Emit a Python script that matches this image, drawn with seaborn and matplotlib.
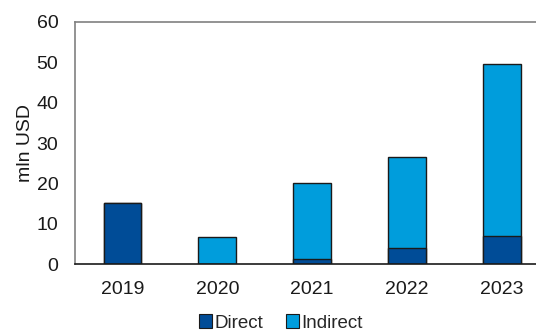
import matplotlib
matplotlib.use("Agg")
import matplotlib.pyplot as plt
from matplotlib.patches import Patch
import seaborn as sns
import pandas as pd

years = ["2019", "2020", "2021", "2022", "2023"]
direct = [15.2, 0.0, 1.4, 4.0, 7.1]
indirect = [0.0, 6.8, 18.7, 22.6, 42.4]

series_names = ["Direct", "Indirect"]
series_colors = ["#004C97", "#009DDC"]

df = pd.DataFrame({"year": years, "Direct": direct, "Indirect": indirect})
df["Total"] = df["Direct"] + df["Indirect"]

sns.set_theme(style="white")
plt.rcParams["font.family"] = ["Liberation Sans", "DejaVu Sans"]

fig = plt.figure(figsize=(5.36, 3.33), dpi=100)
ax = fig.add_axes([0.14, 0.206, 0.885, 0.728])

# Stacked bars: full height in the Indirect colour, Direct segment drawn over it
sns.barplot(data=df, x="year", y="Total", color=series_colors[1], width=0.4,
            edgecolor="#1a1a1a", linewidth=1.0, saturation=1, ax=ax)
sns.barplot(data=df, x="year", y="Direct", color=series_colors[0], width=0.4,
            edgecolor="#1a1a1a", linewidth=1.0, saturation=1, ax=ax)

ax.set_xlim(-0.5, 4.5)
ax.set_ylim(0, 60)
ax.set_yticks(range(0, 61, 10))
ax.set_xlabel("")
ax.set_ylabel("mln USD", fontsize=14, color="#1a1a1a", labelpad=2)
ax.tick_params(axis="both", length=0, labelsize=14, colors="#1a1a1a")
ax.tick_params(axis="y", pad=12)
ax.tick_params(axis="x", pad=12)

for side in ["left", "top", "right"]:
    ax.spines[side].set_color("#808080")
    ax.spines[side].set_linewidth(1.2)
ax.spines["bottom"].set_color("#1a1a1a")
ax.spines["bottom"].set_linewidth(1.2)

handles = [Patch(facecolor=c, edgecolor="#1a1a1a", linewidth=0.8, label=n)
           for n, c in zip(series_names, series_colors)]
fig.legend(handles=handles, loc="center", bbox_to_anchor=(0.524, 0.03), ncol=2,
           frameon=False, fontsize=13.5, handlelength=0.7, handleheight=0.7,
           handletextpad=0.15, columnspacing=1.2, borderpad=0)

fig.savefig("out.png", dpi=100)
